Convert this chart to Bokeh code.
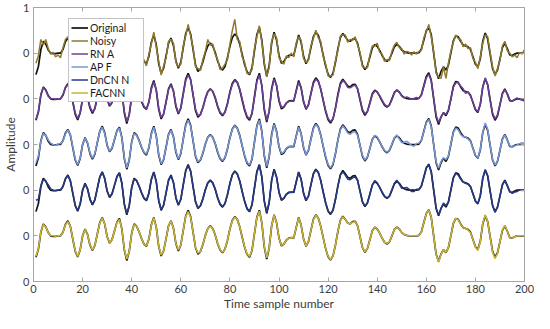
from bokeh.plotting import figure
from bokeh.models import Legend, LegendItem, LinearAxis, FixedTicker, Range1d
from bokeh.embed import file_html
from bokeh.resources import INLINE

samples = list(range(1, 201))

original = [
    -0.47, -0.29, 0.08, 0.26, 0.20, 0.07, 0.00, -0.01, -0.01, 0.00,
    0.00, 0.08, 0.25, 0.33, 0.21, -0.07, -0.34, -0.46, -0.31, 0.00,
    0.15, 0.03, -0.20, -0.32, -0.21, 0.04, 0.29, 0.40, 0.26, -0.02,
    -0.16, -0.08, 0.11, 0.30, 0.38, 0.15, -0.31, -0.54, -0.34, 0.06,
    0.26, 0.21, 0.09, -0.06, -0.18, -0.23, -0.07, 0.24, 0.40, 0.19,
    -0.23, -0.44, -0.33, -0.06, 0.22, 0.33, 0.17, -0.17, -0.33, -0.20,
    0.12, 0.43, 0.56, 0.42, 0.08, -0.26, -0.40, -0.34, -0.19, 0.01,
    0.16, 0.22, 0.16, 0.02, -0.17, -0.31, -0.37, -0.29, -0.10, 0.15,
    0.34, 0.42, 0.36, 0.20, -0.03, -0.25, -0.41, -0.47, -0.32, 0.05,
    0.41, 0.56, 0.29, -0.24, -0.51, -0.27, 0.22, 0.46, 0.29, -0.05,
    -0.22, -0.18, -0.09, -0.05, -0.04, -0.05, 0.18, 0.40, 0.24, -0.07,
    -0.23, -0.13, 0.12, 0.36, 0.46, 0.39, 0.21, -0.04, -0.28, -0.46,
    -0.53, -0.44, -0.20, 0.10, 0.34, 0.43, 0.36, 0.28, 0.26, 0.31,
    0.32, 0.22, -0.02, -0.26, -0.36, -0.28, -0.09, 0.11, 0.19, 0.15,
    0.06, -0.05, -0.14, -0.18, -0.13, 0.00, 0.14, 0.19, 0.15, 0.07,
    0.03, 0.01, 0.00, 0.00, 0.00, 0.00, 0.01, 0.09, 0.29, 0.49,
    0.57, 0.41, 0.00, -0.40, -0.56, -0.40, -0.30, -0.37, -0.26, 0.00,
    0.27, 0.38, 0.36, 0.26, 0.18, 0.16, 0.14, 0.08, -0.08, -0.24,
    -0.30, -0.12, 0.26, 0.44, 0.31, -0.02, -0.34, -0.47, -0.37, -0.13,
    0.12, 0.22, 0.10, -0.04, -0.05, -0.02, 0.00, 0.00, 0.00, 0.00,
]

noisy = [
    -0.22, -0.05, 0.30, 0.18, 0.30, 0.10, -0.02, 0.02, -0.08, -0.04,
    -0.10, 0.12, 0.30, 0.36, 0.18, -0.02, -0.36, -0.42, -0.28, 0.05,
    0.18, -0.02, -0.16, -0.35, -0.15, 0.08, 0.26, 0.45, 0.20, 0.02,
    -0.20, -0.02, 0.14, 0.26, 0.42, 0.10, -0.26, -0.58, -0.30, 0.12,
    0.30, 0.16, 0.14, -0.10, -0.15, -0.28, -0.02, 0.20, 0.46, 0.14,
    -0.18, -0.48, -0.28, -0.10, 0.26, 0.30, 0.22, -0.20, -0.30, -0.24,
    0.16, 0.38, 0.63, 0.38, 0.12, -0.30, -0.34, -0.38, -0.14, 0.04,
    0.30, 0.18, 0.20, -0.02, -0.14, -0.36, -0.33, -0.24, -0.14, 0.20,
    0.50, 0.74, 0.30, 0.26, -0.08, -0.20, -0.45, -0.44, -0.36, 0.10,
    0.36, 0.60, 0.24, -0.20, -0.50, -0.32, 0.26, 0.42, 0.34, -0.10,
    -0.18, -0.24, -0.06, -0.10, 0.00, -0.08, 0.22, 0.36, 0.28, -0.12,
    -0.20, -0.16, 0.16, 0.32, 0.50, 0.34, 0.26, -0.08, -0.24, -0.50,
    -0.50, -0.48, -0.16, 0.06, 0.38, 0.40, 0.40, 0.24, 0.30, 0.28,
    0.36, 0.18, 0.02, -0.30, -0.32, -0.32, -0.05, 0.16, 0.15, 0.22,
    0.02, -0.02, -0.18, -0.14, -0.16, 0.04, 0.18, 0.24, 0.12, 0.10,
    -0.02, 0.04, 0.02, -0.04, 0.03, -0.02, 0.04, 0.06, 0.34, 0.46,
    0.63, 0.36, 0.04, -0.44, -0.52, -0.55, -0.30, -0.55, -0.22, 0.04,
    0.24, 0.40, 0.32, 0.30, 0.14, 0.20, 0.10, 0.12, -0.12, -0.20,
    -0.34, -0.08, 0.22, 0.40, 0.36, 0.02, -0.30, -0.50, -0.33, -0.16,
    0.16, 0.26, 0.05, 0.00, -0.08, -0.04, -0.10, 0.02, -0.02, 0.08,
]

rna = [
    -0.45, -0.27, 0.10, 0.25, 0.18, 0.06, 0.01, 0.00, -0.01, 0.00,
    0.01, 0.09, 0.24, 0.31, 0.20, -0.05, -0.31, -0.43, -0.30, -0.02,
    0.12, 0.05, -0.17, -0.29, -0.22, 0.02, 0.26, 0.37, 0.25, 0.00,
    -0.14, -0.07, 0.10, 0.28, 0.35, 0.16, -0.28, -0.50, -0.35, 0.03,
    0.23, 0.22, 0.10, -0.04, -0.16, -0.22, -0.08, 0.21, 0.37, 0.20,
    -0.20, -0.41, -0.33, -0.08, 0.20, 0.31, 0.18, -0.14, -0.31, -0.21,
    0.10, 0.40, 0.52, 0.42, 0.10, -0.23, -0.37, -0.34, -0.20, 0.00,
    0.15, 0.21, 0.17, 0.04, -0.15, -0.29, -0.35, -0.30, -0.12, 0.13,
    0.32, 0.40, 0.36, 0.22, 0.00, -0.22, -0.38, -0.44, -0.32, 0.02,
    0.38, 0.52, 0.30, -0.20, -0.47, -0.28, 0.19, 0.43, 0.30, -0.02,
    -0.19, -0.17, -0.09, -0.06, -0.05, -0.04, 0.16, 0.37, 0.25, -0.04,
    -0.21, -0.14, 0.10, 0.33, 0.43, 0.38, 0.22, -0.02, -0.25, -0.43,
    -0.50, -0.43, -0.21, 0.07, 0.31, 0.40, 0.35, 0.25, 0.24, 0.28,
    0.30, 0.22, 0.00, -0.23, -0.33, -0.28, -0.11, 0.09, 0.17, 0.15,
    0.07, -0.03, -0.12, -0.17, -0.14, -0.02, 0.12, 0.20, 0.14, 0.06,
    0.02, 0.04, 0.02, -0.01, 0.01, 0.03, 0.01, 0.08, 0.27, 0.46,
    0.54, 0.40, 0.02, -0.36, -0.52, -0.39, -0.31, -0.34, -0.24, -0.02,
    0.25, 0.35, 0.35, 0.28, 0.22, 0.12, 0.16, 0.06, -0.07, -0.22,
    -0.28, -0.12, 0.26, 0.46, 0.30, -0.03, -0.31, -0.44, -0.35, -0.12,
    0.10, 0.20, 0.12, -0.02, -0.06, -0.01, 0.02, -0.01, -0.03, -0.05,
]

apf = [
    -0.40, -0.25, 0.07, 0.24, 0.20, 0.10, 0.03, 0.00, -0.02, 0.01,
    0.02, 0.07, 0.23, 0.32, 0.22, -0.05, -0.32, -0.44, -0.30, 0.01,
    0.14, 0.04, -0.18, -0.30, -0.20, 0.05, 0.28, 0.38, 0.24, -0.01,
    -0.15, -0.07, 0.12, 0.29, 0.36, 0.14, -0.29, -0.51, -0.33, 0.05,
    0.24, 0.20, 0.08, -0.05, -0.17, -0.21, -0.06, 0.22, 0.38, 0.18,
    -0.21, -0.42, -0.32, -0.07, 0.21, 0.31, 0.16, -0.15, -0.31, -0.19,
    0.11, 0.41, 0.53, 0.40, 0.09, -0.24, -0.38, -0.33, -0.18, 0.02,
    0.15, 0.21, 0.15, 0.03, -0.15, -0.30, -0.35, -0.28, -0.09, 0.14,
    0.33, 0.41, 0.35, 0.19, -0.02, -0.23, -0.39, -0.45, -0.31, 0.04,
    0.40, 0.53, 0.28, -0.22, -0.48, -0.26, 0.20, 0.44, 0.28, -0.04,
    -0.20, -0.16, -0.08, -0.04, -0.06, -0.03, 0.17, 0.38, 0.23, -0.05,
    -0.22, -0.12, 0.11, 0.34, 0.44, 0.38, 0.20, -0.03, -0.26, -0.44,
    -0.51, -0.42, -0.19, 0.09, 0.32, 0.41, 0.34, 0.25, 0.22, 0.27,
    0.28, 0.20, -0.02, -0.24, -0.34, -0.27, -0.09, 0.10, 0.20, 0.17,
    0.06, -0.04, -0.13, -0.17, -0.12, 0.01, 0.15, 0.21, 0.12, 0.04,
    0.05, 0.07, 0.03, -0.02, -0.04, 0.02, 0.03, 0.10, 0.28, 0.47,
    0.55, 0.39, 0.01, -0.38, -0.52, -0.37, -0.29, -0.33, -0.25, 0.01,
    0.26, 0.36, 0.32, 0.22, 0.17, 0.17, 0.12, 0.07, -0.09, -0.23,
    -0.29, -0.11, 0.27, 0.47, 0.33, -0.01, -0.33, -0.45, -0.36, -0.12,
    0.11, 0.21, 0.09, -0.03, -0.06, -0.03, -0.01, 0.02, 0.04, 0.03,
]

dncnn = [
    -0.22, -0.20, 0.10, 0.24, 0.19, 0.12, 0.03, 0.00, -0.01, 0.00,
    0.01, 0.08, 0.24, 0.32, 0.21, -0.06, -0.33, -0.45, -0.30, 0.00,
    0.14, 0.03, -0.19, -0.31, -0.21, 0.04, 0.28, 0.39, 0.25, -0.02,
    -0.15, -0.08, 0.11, 0.29, 0.37, 0.15, -0.30, -0.52, -0.34, 0.05,
    0.25, 0.21, 0.09, -0.05, -0.17, -0.22, -0.07, 0.23, 0.39, 0.19,
    -0.22, -0.43, -0.33, -0.06, 0.21, 0.32, 0.17, -0.16, -0.32, -0.20,
    0.11, 0.42, 0.54, 0.41, 0.08, -0.25, -0.39, -0.34, -0.19, 0.01,
    0.16, 0.21, 0.16, 0.03, -0.16, -0.30, -0.36, -0.29, -0.10, 0.14,
    0.33, 0.41, 0.35, 0.20, -0.03, -0.24, -0.40, -0.46, -0.32, 0.04,
    0.40, 0.54, 0.29, -0.23, -0.49, -0.27, 0.21, 0.45, 0.29, -0.04,
    -0.21, -0.17, -0.09, -0.05, -0.05, -0.04, 0.17, 0.39, 0.24, -0.06,
    -0.22, -0.13, 0.11, 0.35, 0.45, 0.38, 0.21, -0.04, -0.27, -0.45,
    -0.52, -0.43, -0.20, 0.09, 0.33, 0.40, 0.33, 0.24, 0.23, 0.27,
    0.29, 0.21, -0.02, -0.25, -0.35, -0.28, -0.10, 0.11, 0.21, 0.16,
    0.06, -0.04, -0.13, -0.17, -0.13, 0.01, 0.15, 0.22, 0.13, 0.04,
    0.05, 0.06, 0.02, -0.03, -0.03, 0.02, 0.02, 0.09, 0.28, 0.48,
    0.56, 0.40, 0.01, -0.39, -0.55, -0.40, -0.28, -0.34, -0.26, 0.00,
    0.26, 0.37, 0.33, 0.24, 0.18, 0.15, 0.13, 0.07, -0.08, -0.23,
    -0.30, -0.12, 0.26, 0.45, 0.32, -0.02, -0.33, -0.49, -0.37, -0.13,
    0.11, 0.21, 0.10, -0.02, -0.07, -0.04, -0.03, 0.01, -0.01, 0.00,
]

facnn = [
    -0.45, -0.28, 0.09, 0.25, 0.19, 0.07, 0.01, 0.00, -0.01, 0.00,
    0.00, 0.08, 0.24, 0.31, 0.21, -0.06, -0.33, -0.45, -0.31, 0.00,
    0.14, 0.03, -0.19, -0.31, -0.21, 0.04, 0.28, 0.39, 0.26, -0.02,
    -0.15, -0.08, 0.11, 0.29, 0.36, 0.15, -0.30, -0.51, -0.34, 0.06,
    0.25, 0.21, 0.09, -0.06, -0.18, -0.22, -0.07, 0.23, 0.39, 0.19,
    -0.22, -0.42, -0.33, -0.06, 0.22, 0.32, 0.17, -0.16, -0.31, -0.20,
    0.12, 0.42, 0.53, 0.41, 0.08, -0.25, -0.38, -0.34, -0.19, 0.01,
    0.16, 0.21, 0.16, 0.02, -0.16, -0.30, -0.36, -0.29, -0.10, 0.15,
    0.33, 0.41, 0.36, 0.20, -0.03, -0.24, -0.40, -0.45, -0.32, 0.05,
    0.40, 0.54, 0.29, -0.23, -0.48, -0.27, 0.22, 0.45, 0.29, -0.05,
    -0.21, -0.18, -0.09, -0.05, -0.04, -0.05, 0.18, 0.39, 0.24, -0.07,
    -0.22, -0.13, 0.12, 0.35, 0.45, 0.39, 0.21, -0.04, -0.28, -0.45,
    -0.52, -0.44, -0.20, 0.10, 0.34, 0.42, 0.36, 0.28, 0.26, 0.30,
    0.31, 0.22, -0.02, -0.26, -0.35, -0.28, -0.09, 0.11, 0.19, 0.15,
    0.06, -0.05, -0.14, -0.17, -0.13, 0.00, 0.14, 0.19, 0.15, 0.07,
    0.03, 0.01, 0.00, 0.00, 0.00, 0.00, 0.01, 0.09, 0.29, 0.49,
    0.57, 0.41, 0.00, -0.40, -0.58, -0.41, -0.30, -0.36, -0.26, 0.00,
    0.28, 0.38, 0.35, 0.25, 0.18, 0.16, 0.13, 0.07, -0.08, -0.25,
    -0.32, -0.13, 0.27, 0.46, 0.31, -0.03, -0.36, -0.50, -0.38, -0.13,
    0.13, 0.23, 0.10, -0.04, -0.05, -0.02, 0.00, 0.00, 0.00, 0.00,
]

method_names = ["Noisy", "RN A", "AP F", "DnCN N", "FACNN"]
method_values = [noisy, rna, apf, dncnn, facnn]
trace_offsets = [5, 4, 3, 2, 1]
method_colors = ["#8e7a2e", "#6c3f9c", "#7897d6", "#27398a", "#c9b532"]

x_ticks = list(range(0, 201, 20))
y_ticks = [0, 1, 2, 3, 4, 5, 6]
y_tick_labels = ["0", "0", "0", "0", "0", "0", "1"]

FONT = "Lato"
TXT = "#3c3c3c"
AX = "#a6a6a6"

W, H = 534, 313
B_TOP, B_BOTTOM = 7, 32
p = figure(width=W, height=H, output_backend="svg", toolbar_location=None,
           x_range=Range1d(0, 200), y_range=Range1d(0, 6),
           min_border_left=25, min_border_right=10,
           min_border_top=B_TOP, min_border_bottom=B_BOTTOM)
p.xgrid.visible = False
p.ygrid.visible = False
p.outline_line_color = AX
p.background_fill_color = "white"

for ax in (p.xaxis[0], p.yaxis[0]):
    ax.axis_line_color = AX
    ax.major_tick_line_color = AX
    ax.minor_tick_line_color = None
    ax.major_tick_in = 4
    ax.major_tick_out = 0
    ax.major_label_text_font = FONT
    ax.major_label_text_font_size = "11px"
    ax.major_label_text_color = TXT
    ax.axis_label_text_font = FONT
    ax.axis_label_text_font_size = "12px"
    ax.axis_label_text_font_style = "normal"
    ax.axis_label_text_color = TXT

p.xaxis[0].ticker = FixedTicker(ticks=x_ticks)
p.xaxis[0].axis_label = "Time sample number"
p.xaxis[0].major_label_standoff = 3
p.xaxis[0].axis_label_standoff = 0
p.yaxis[0].ticker = FixedTicker(ticks=y_ticks)
p.yaxis[0].major_label_overrides = {t: l for t, l in zip(y_ticks, y_tick_labels)}
p.yaxis[0].axis_label = "Amplitude"
p.yaxis[0].major_label_standoff = 4
p.yaxis[0].axis_label_standoff = 2

# mirrored tick marks (box style), without labels
for ticks, side in ((x_ticks, "above"), (y_ticks, "right")):
    mirror = LinearAxis(ticker=FixedTicker(ticks=ticks), major_label_text_font_size="1px",
                        major_label_text_color=None, major_label_standoff=0,
                        major_tick_in=4, major_tick_out=0, minor_tick_line_color=None,
                        axis_line_color=AX, major_tick_line_color=AX)
    p.add_layout(mirror, side)

orig_renderer = None
method_renderers = []
for name, vals, off, col in zip(method_names, method_values, trace_offsets, method_colors):
    r0 = p.line(samples, [v + off for v in original], line_color="#111111", line_width=1.7)
    if orig_renderer is None:
        orig_renderer = r0
    r1 = p.line(samples, [v + off for v in vals], line_color=col, line_width=1.5)
    method_renderers.append(r1)

items = [LegendItem(label="Original", renderers=[orig_renderer])]
for name, r in zip(method_names, method_renderers):
    items.append(LegendItem(label=name, renderers=[r]))

ROW, PAD = 13, 2
legend_h = ROW * len(items) + 2 * PAD
frame_h = H - B_TOP - B_BOTTOM
legend = Legend(items=items, location=(35, frame_h - 13 - legend_h), orientation="vertical",
                label_text_font=FONT, label_text_font_size="10.5px", label_text_color="#1a1a1a",
                label_height=ROW, glyph_height=ROW, glyph_width=17, label_standoff=2,
                label_width=51, spacing=0, padding=PAD, margin=0,
                border_line_color="#8a8a8a", border_line_width=1,
                background_fill_color="white", background_fill_alpha=1.0)
p.add_layout(legend, "center")

open("out.html", "w").write(file_html(p, INLINE))
